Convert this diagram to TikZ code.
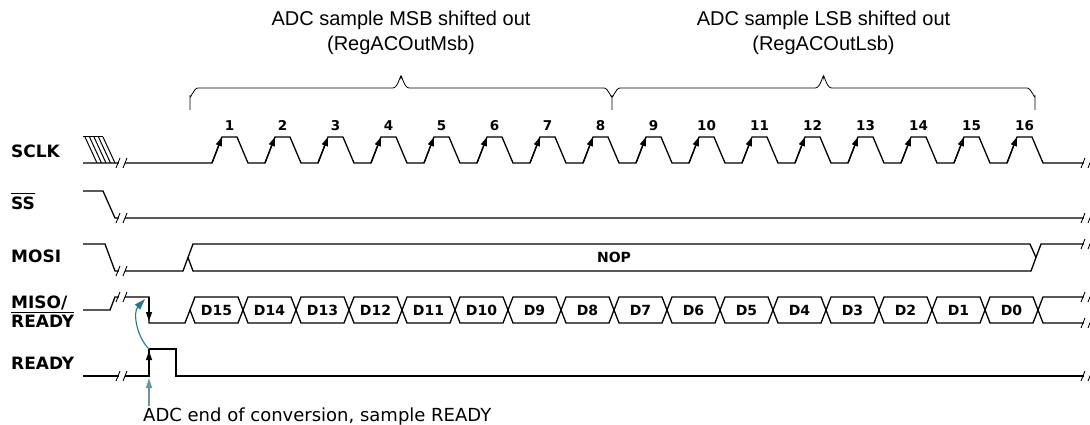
\documentclass[tikz,border=0pt]{standalone}
\usepackage{fontspec}
\setmainfont{DejaVu Sans}
\newfontfamily\arialfont{Liberation Sans}
\usetikzlibrary{arrows.meta}
\definecolor{eocteal}{RGB}{38,120,140}
\definecolor{eocgrey}{RGB}{105,150,165}

\tikzset{
    sig/.style={line width=1.3pt, line join=miter},
    lbl/.style={anchor=base west, inner sep=0pt, font=\fontsize{17}{19}\selectfont\bfseries},
    num/.style={anchor=base, inner sep=0pt, font=\fontsize{13.5}{15}\selectfont\bfseries},
    dat/.style={anchor=base, inner sep=0pt, font=\fontsize{14}{16}\selectfont\bfseries},
    edgetip/.style={line width=1.3pt, -{Triangle[length=9pt,width=6pt]}},
    brace/.style={line width=0.8pt},
    caption/.style={align=center, inner sep=0pt, font=\arialfont\fontsize{20}{25}\selectfont},
}
\newcommand{\brkmark}[2]{%
    \fill[white] (#1-3,#2-5) rectangle (#1+3,#2+5);
    \draw[line width=0.9pt] (#1-6,#2+5) -- (#1-2,#2-5);
    \draw[line width=0.9pt] (#1+1,#2+5) -- (#1+5,#2-5);
}

\begin{document}
\begin{tikzpicture}[x=1pt,y=-1pt]
    \useasboundingbox (0,0) rectangle (1090,425);

    % signal names
    \node[lbl] (sclk) at (11,158) {SCLK};
    \node[lbl] (ss) at (11,209) {SS};
    \node[lbl] (mosi) at (11,262) {MOSI};
    \node[lbl] (miso) at (11,308) {MISO/};
    \node[lbl] (rdyn) at (11,327.5) {READY};
    \node[lbl] (rdy) at (11,369) {READY};
    \draw[line width=1pt] ([yshift=2.5pt]ss.north west) -- ([yshift=2.5pt]ss.north east);
    \draw[line width=1pt] ([yshift=2.5pt]rdyn.north west) -- ([yshift=2.5pt]rdyn.north east);

    % braces and captions
    \node[caption] (msb) at (401,33) {ADC sample MSB shifted out\\(RegACOutMsb)};
    \node[caption] (lsb) at (823.5,33) {ADC sample LSB shifted out\\(RegACOutLsb)};
    \draw[brace] (190,110) -- (190,96) to[out=-90,in=180] (198,88) -- (393,88)
        to[out=0,in=90] (401,77) to[out=90,in=180] (409,88) -- (604,88)
        to[out=0,in=-90] (612,96) -- (612,110);
    \draw[brace] (612,96) to[out=-90,in=180] (620,88) -- (815.5,88)
        to[out=0,in=90] (823.5,77) to[out=90,in=180] (831.5,88) -- (1027,88)
        to[out=0,in=-90] (1035,96) -- (1035,110);

    % SCLK
    \draw[line width=1pt] (83,137) -- (103,137);
    \foreach \i in {0,...,4}
        \draw[line width=1pt] ({85+4.5*\i},137) -- ({97+4.5*\i},163);
    \draw[sig] (83,163) -- (212,163)
        \foreach \k in {0,...,15} { -- ({212+53*\k},163) -- ({222+53*\k},137)
        -- ({237+53*\k},137) -- ({248+53*\k},163) } -- (1090,163);
    \foreach \k [evaluate=\k as \n using int(\k+1)] in {0,...,15} {
        \draw[edgetip] ({212+53*\k},163) -- ({222+53*\k},137);
        \node[num] (clk\n) at ({229.5+53*\k},131) {\n};
    }
    \brkmark{122}{163}
    \brkmark{1087}{163}

    % SS
    \draw[sig] (83,191) -- (103,191) -- (115,218) -- (1090,218);
    \brkmark{122}{218}
    \brkmark{1087}{218}

    % MOSI
    \draw[sig] (83,244) -- (105,244) -- (115,271) -- (183,271) -- (193,244)
        -- (1030,244) -- (1036,257.5);
    \draw[sig] (188,257.5) -- (193,271) -- (1031,271) -- (1041,244) -- (1090,244);
    \node[dat] (nop) at (614,262) {NOP};
    \brkmark{122}{271}
    \brkmark{1087}{244}

    % MISO / READY
    \draw[sig] (83,310) -- (110,310) -- (115,297) -- (149,297) -- (149,323)
        -- (185,323) -- (190,310);
    \foreach \k [evaluate=\k as \n using int(15-\k)] in {0,...,15} {
        \draw[sig] ({190+53*\k},310) -- ({195+53*\k},297) -- ({238+53*\k},297)
            -- ({243+53*\k},310) -- ({238+53*\k},323) -- ({195+53*\k},323) -- cycle;
        \node[dat] (d\n) at ({216.5+53*\k},315) {D\n};
    }
    \draw[sig] (1038,310) -- (1043,297) -- (1090,297);
    \draw[sig] (1038,310) -- (1043,323) -- (1090,323);
    \draw[edgetip] (149,297) -- (149,321);
    \brkmark{122}{297}
    \brkmark{1087}{297}
    \brkmark{1087}{323}

    % READY
    \draw[sig] (83,376) -- (149,376) -- (149,349) -- (176,349) -- (176,376) -- (1090,376);
    \draw[edgetip] (149,376) -- (149,351);
    \brkmark{122}{376}
    \brkmark{1087}{376}

    % end of conversion
    \node[anchor=base west, inner sep=0pt, font=\fontsize{18}{20}\selectfont] (eoc) at (143,421.5)
        {ADC end of conversion, sample READY};
    \draw[line width=1.3pt, eocgrey, -{Triangle[length=10pt,width=6pt]}] (149,406) -- (149,378);
    \draw[line width=1.1pt, eocteal, -{Triangle[length=11pt,width=7pt]}] (149,349)
        .. controls (136,336) and (133,312) .. (145,299);
\end{tikzpicture}
\end{document}
